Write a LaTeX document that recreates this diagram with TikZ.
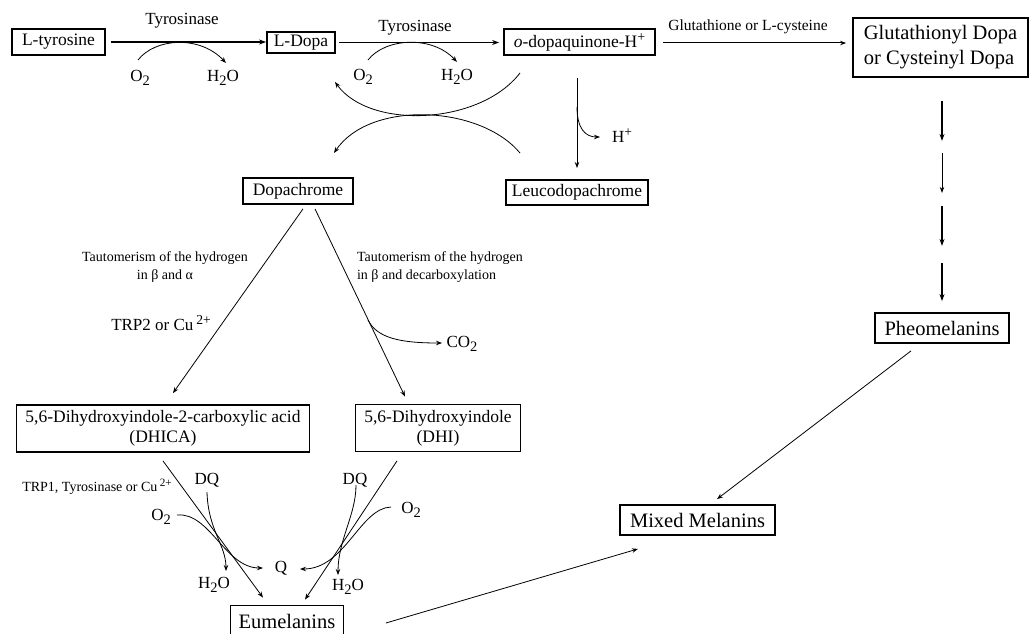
\documentclass[tikz,border=0pt]{standalone}
\usepackage{fontspec}
\setmainfont{Liberation Serif}
\usetikzlibrary{arrows.meta,calc}
\newcommand\fnode{\fontsize{17.5}{20}\selectfont}
\newcommand\fbig{\fontsize{20.5}{25}\selectfont}
\newcommand\flab{\fontsize{17}{19}\selectfont}
\newcommand\fmid{\fontsize{15.5}{18}\selectfont}
\newcommand\fsmall{\fontsize{14}{18}\selectfont}
\newcommand\sbs[1]{\raisebox{-0.55ex}{\scalebox{0.85}{#1}}}
\newcommand\sps[1]{\raisebox{0.75ex}{\scalebox{0.8}{#1}}}
\begin{document}
\begin{tikzpicture}[x=1pt,y=-1pt,
  box/.style={draw,line width=1.8pt,inner sep=0pt,align=center},
  lbl/.style={inner sep=0pt,font=\flab},
  arr/.style={line width=0.8pt,-{Stealth[length=6pt,width=4.5pt]}},
  harr/.style={line width=1.5pt,-{Stealth[length=7pt,width=5pt]}},
]
\useasboundingbox (0,0) rectangle (1030,634);

% ---------- boxes ----------
\node[box,font=\fnode,minimum width=93pt,minimum height=26pt] (ty) at (58.5,42) {L-tyrosine};
\node[box,font=\fnode,minimum width=68pt,minimum height=21pt] (dopa) at (301,42.5) {L-Dopa};
\node[box,font=\fnode,minimum width=151pt,minimum height=26pt] (dq) at (579.5,42) {\textit{o}-dopaquinone-H\sps{+}};
\node[box,font=\fbig,align=left,minimum width=175pt,minimum height=59pt] (glu) at (940.5,47.5) {Glutathionyl Dopa\\or Cysteinyl Dopa};
\node[box,font=\fnode,minimum width=142pt,minimum height=25pt] (leuco) at (577,192.5) {Leucodopachrome};
\node[box,font=\fnode,minimum width=110pt,minimum height=26pt] (dopach) at (298,191) {Dopachrome};
\node[box,font=\fnode,minimum width=293pt,minimum height=47pt] (dhica) at (163,428.5) {5,6-Dihydroxyindole-2-carboxylic acid\\(DHICA)};
\node[box,font=\fnode,minimum width=165pt,minimum height=47pt] (dhi) at (438,428) {5,6-Dihydroxyindole\\(DHI)};
\node[box,font=\fbig,minimum width=134pt,minimum height=30pt] (pheo) at (942,328) {Pheomelanins};
\node[box,font=\fbig,minimum width=155pt,minimum height=30pt] (mixed) at (697.5,520) {Mixed Melanins};
\node[box,font=\fbig,minimum width=113pt,minimum height=31pt] (eu) at (287,621) {Eumelanins};

% ---------- labels ----------
\node[lbl] (tyr1) at (182,21) {Tyrosinase};
\node[lbl] (tyr2) at (415,28) {Tyrosinase};
\node[lbl] (o2a) at (140,78) {O\sbs{2}};
\node[lbl] (h2oa) at (223,78) {H\sbs{2}O};
\node[lbl] (o2b) at (363,77) {O\sbs{2}};
\node[lbl] (h2ob) at (457,77) {H\sbs{2}O};
\node[inner sep=0pt,font=\fmid] (glut) at (748,27) {Glutathione or L-cysteine};
\node[lbl] (hplus) at (622,136) {H\sps{+}};
\node[inner sep=0pt,font=\fsmall,align=center] (tautL) at (165,267) {Tautomerism of the hydrogen\\in β and α};
\node[inner sep=0pt,font=\fsmall,align=left] (tautR) at (440,267) {Tautomerism of the hydrogen\\in β and decarboxylation};
\node[lbl] (trp2) at (161,323) {TRP2 or Cu\,\sps{2+}};
\node[lbl] (co2) at (462,344) {CO\sbs{2}};
\node[inner sep=0pt,font=\fsmall] (trp1) at (97,487) {TRP1, Tyrosinase or Cu\,\sps{2+}};
\node[lbl] (dqL) at (207,480) {DQ};
\node[lbl] (o2L) at (161,517) {O\sbs{2}};
\node[lbl] (h2oL) at (214,585) {H\sbs{2}O};
\node[lbl] (q) at (281,568) {Q};
\node[lbl] (dqR) at (355,480) {DQ};
\node[lbl] (o2R) at (411,510) {O\sbs{2}};
\node[lbl] (h2oR) at (348,587) {H\sbs{2}O};

% ---------- main arrows ----------
\draw[harr,shorten <=5pt] (ty.east) -- (ty.east -| dopa.west);
\draw[harr,shorten <=3pt,shorten >=4pt] (dopa.east) -- (dopa.east -| dq.west);
\draw[arr,line width=1pt,shorten <=7pt,shorten >=6pt] ($(dq.east)+(0,1)$) -- ($(dq.east -| glu.west)+(0,1)$);

% side curves on top arrows
\coordinate (a1) at (138,60); \coordinate (a2) at (226,63);
\draw[arr] (a1) .. controls (155,38) and (200,35) .. (a2);
\coordinate (b1) at (368,60); \coordinate (b2) at (457,62);
\draw[arr] (b1) .. controls (385,38) and (432,35) .. (b2);

% crossing arcs
\coordinate (u1) at (520,73); \coordinate (u2) at (335,82);
\draw[arr] (u1) .. controls (480,125) and (370,130) .. (u2);
\coordinate (l1) at (520,153); \coordinate (l2) at (334,153);
\draw[arr] (l1) .. controls (480,105) and (370,100) .. (l2);

% o-dopaquinone -> Leucodopachrome
\coordinate (v1) at (577,78); \coordinate (v2) at (577,107); \coordinate (hp) at (600,137);
\draw[arr] (v1) -- (leuco.north |- 0,168);
\draw[arr] (v2) .. controls (577,128) and (585,137) .. (hp);

% Glutathionyl -> Pheomelanins (broken arrows)
\draw[harr] ($(glu.south)+(1.5,23)$) -- ++(0,40);
\draw[arr] ($(glu.south)+(1.5,75)$) -- ++(0,40);
\draw[harr] ($(glu.south)+(1.5,128)$) -- ++(0,40);
\draw[harr] ($(glu.south)+(1.5,185)$) -- ($(pheo.north)+(0,-11)$);

% Dopachrome -> DHICA / DHI
\draw[arr] ($(dopach.south)+(5,4)$) -- ($(dhica.north)+(10,-11)$);
\coordinate (d1) at ($(dopach.south)+(17,4)$);
\draw[arr] (d1) -- ($(dhi.north)+(-33,-7)$);
\coordinate (c1) at (368,320); \coordinate (c2) at (442,343);
\draw[arr] (c1) .. controls (377,338) and (400,343) .. (c2);

% DHICA -> Eumelanins
\draw[arr] ($(dhica.south)+(0,8)$) -- ($(eu.north)+(-24,-7)$);
\coordinate (e1) at (207,492); \coordinate (e2) at (226,571);
\draw[arr] (e1) .. controls (208,530) and (226,545) .. (e2);
\coordinate (f1) at (177,515); \coordinate (f2) at (263,568);
\draw[arr] (f1) .. controls (210,512) and (225,568) .. (f2);

% DHI -> Eumelanins
\draw[arr] ($(dhi.south)+(-41,8.5)$) -- ($(eu.north)+(18,-5)$);
\coordinate (g1) at (356,485); \coordinate (g2) at (338,575);
\draw[arr] (g1) .. controls (356,515) and (338,540) .. (g2);
\coordinate (h1) at (391,507); \coordinate (h2) at (300,569);
\draw[arr] (h1) .. controls (360,508) and (345,569) .. (h2);

% to Mixed Melanins
\draw[arr] ($(pheo.south)+(-31,7)$) -- ($(mixed.north)+(19.5,-5)$);
\draw[arr] ($(eu.east)+(41.5,2)$) -- ($(mixed.south)+(-59.5,13)$);
\end{tikzpicture}
\end{document}
